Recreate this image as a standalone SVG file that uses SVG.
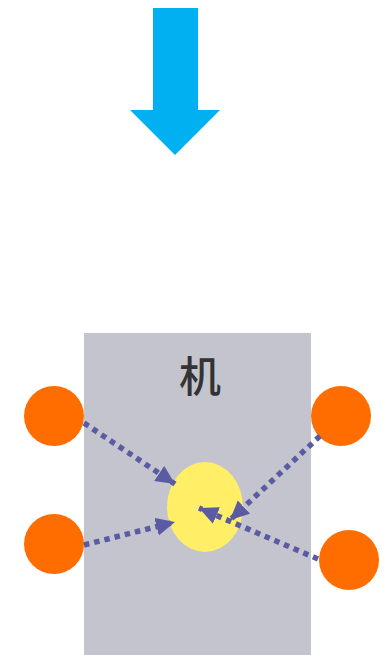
<svg xmlns="http://www.w3.org/2000/svg" width="388" height="655" viewBox="0 0 388 655">
<style>
.o{fill:#ff6d00}
.c{stroke:#5b5ba3;stroke-width:5.5;stroke-dasharray:5.5 5;fill:none}
</style>
<defs>
<marker id="ah" markerUnits="userSpaceOnUse" markerWidth="22" markerHeight="20" refX="19" refY="9" orient="auto">
<path d="M0,0 L19,9 L0,18 Z" fill="#5b5ba3"/>
</marker>
</defs>
<g id="bigarrow"><path d="M153,8 H198 V110 H220 L175,155 L130,110 H153 Z" fill="#00b0f0"/></g>
<g id="machine"><rect x="84" y="333" width="227" height="322" fill="#c3c4ce"/>
<text x="200" y="392" font-size="42" font-weight="500" font-family="Noto Sans CJK SC, sans-serif" fill="#333333" text-anchor="middle">机</text></g>
<g id="core"><ellipse cx="205" cy="507" rx="38" ry="45" fill="#ffee66"/></g>
<g id="n1"><circle class="o" cx="54" cy="416" r="30"/></g>
<g id="n2"><circle class="o" cx="54" cy="544" r="30"/></g>
<g id="n3"><circle class="o" cx="341" cy="416" r="30"/></g>
<g id="n4"><circle class="o" cx="349" cy="560" r="30"/></g>
<g id="connectors">
<line class="c" x1="84" y1="423" x2="175" y2="484" marker-end="url(#ah)"/>
<line class="c" x1="84" y1="545" x2="175" y2="522" marker-end="url(#ah)"/>
<line class="c" x1="320" y1="436" x2="230" y2="520" marker-end="url(#ah)"/>
<line class="c" x1="318" y1="559" x2="199" y2="508" marker-end="url(#ah)"/>
</g>
</svg>
